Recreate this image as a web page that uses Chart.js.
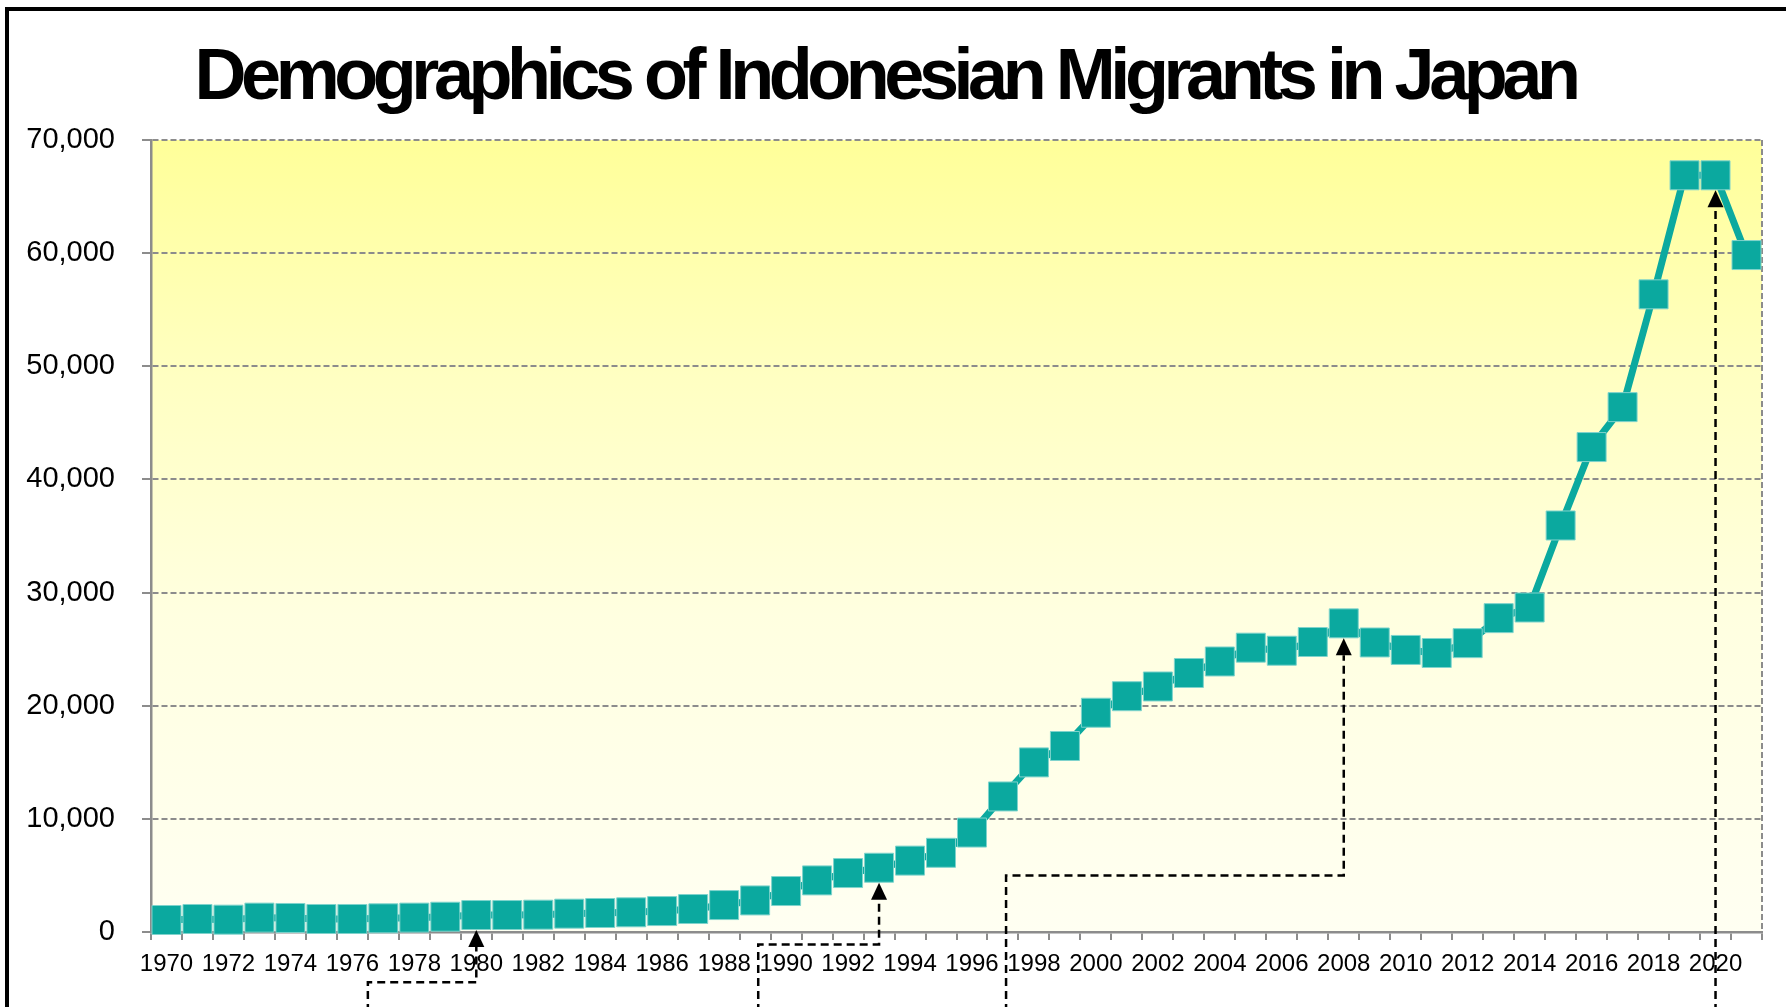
<!DOCTYPE html>
<html>
<head>
<meta charset="utf-8">
<title>Demographics of Indonesian Migrants in Japan</title>
<script src="https://cdn.jsdelivr.net/npm/chart.js@4.4.1/dist/chart.umd.min.js"></script>
<style>
  html, body { margin: 0; padding: 0; background: #ffffff; overflow: hidden; width: 1786px; height: 1007px; }
  #frame { position: absolute; left: 5px; top: 7px; width: 1900px; height: 1100px; border: 4px solid #000; box-sizing: border-box; }
  #title { position: absolute; left: 0; top: 38px; width: 1770px; margin: 0; text-align: center;
           font-family: 'Liberation Sans', Arial, sans-serif; font-weight: bold; font-size: 72px; line-height: 72px;
           color: #000; white-space: nowrap; }
  #c { position: absolute; left: 0; top: 0; }
</style>
</head>
<body>
<div id="frame"></div>
<h1 id="title"><span id="titleText">Demographics of Indonesian Migrants in Japan</span></h1>
<canvas id="c" width="1786" height="1007"></canvas>
<script>
// ---- data ----
const years = ['1970','1971','1972','1973','1974','1975','1976','1977','1978','1979',
               '1980','1981','1982','1983','1984','1985','1986','1987','1988','1989',
               '1990','1991','1992','1993','1994','1995','1996','1997','1998','1999',
               '2000','2001','2002','2003','2004','2005','2006','2007','2008','2009',
               '2010','2011','2012','2013','2014','2015','2016','2017','2018','2019',
               '2020','2021'];
const migrants = [1060, 1150, 1090, 1270, 1240, 1150, 1150, 1210, 1270, 1350,
                  1500, 1500, 1530, 1620, 1680, 1740, 1850, 2030, 2380, 2790,
                  3620, 4560, 5210, 5680, 6310, 7000, 8790, 11980, 14990, 16440,
                  19380, 20840, 21700, 22890, 23910, 25130, 24860, 25630, 27280, 25590,
                  24930, 24660, 25530, 27740, 28680, 35930, 42860, 46390, 56360, 66880,
                  66880, 59830];
const xTickLabels = ['1970','1972','1974','1976','1978','1980','1982','1984','1986','1988',
                     '1990','1992','1994','1996','1998','2000','2002','2004','2006','2008',
                     '2010','2012','2014','2016','2018','2020'];
const yTickValues = [0, 10000, 20000, 30000, 40000, 50000, 60000, 70000];

// dashed call-out leaders (category position where leader rises, elbow level in data units, target year)
const calloutStart = [6.5, 19.1, 27.1, 50];
const calloutElbow = [-4450, -1100, 5000, null];
const calloutTarget = ['1980', '1993', '2008', '2020'];

// ---- title letter spacing to match condensed look ----
(function () {
  const span = document.getElementById('titleText');
  const w = span.getBoundingClientRect().width;
  const target = 1381;
  const n = span.textContent.length;
  span.parentElement.style.letterSpacing = ((target - w) / n).toFixed(2) + 'px';
})();

const teal = '#0BA99F';

const plotBackground = {
  id: 'plotBackground',
  beforeDraw(chart) {
    const { ctx, chartArea: a } = chart;
    const g = ctx.createLinearGradient(0, a.top, 0, a.bottom);
    g.addColorStop(0, '#FFFF99');
    g.addColorStop(0.3, '#FFFFC2');
    g.addColorStop(0.6, '#FFFFE0');
    g.addColorStop(1, '#FFFFF2');
    ctx.save();
    ctx.fillStyle = g;
    ctx.fillRect(a.left, a.top, a.right - a.left, a.bottom - a.top);
    ctx.restore();
  },
  beforeDatasetsDraw(chart) {
    const { ctx, chartArea: a } = chart;
    ctx.save();
    ctx.strokeStyle = '#8c8c8c';
    ctx.lineWidth = 2;
    ctx.setLineDash([6, 3]);
    ctx.beginPath();
    ctx.moveTo(a.right, a.top);
    ctx.lineTo(a.right, a.bottom);
    ctx.stroke();
    ctx.restore();
  }
};

const callouts = {
  id: 'callouts',
  afterDraw(chart) {
    const { ctx } = chart;
    const xs = chart.scales.x, ys = chart.scales.y;
    const bottom = chart.height + 5;
    const headLen = 17, headHalf = 8;
    ctx.save();
    ctx.strokeStyle = '#000';
    ctx.fillStyle = '#000';
    ctx.lineWidth = 2.5;
    for (let k = 0; k < calloutTarget.length; k++) {
      const idx = years.indexOf(calloutTarget[k]);
      const xt = xs.getPixelForValue(idx);
      const tipY = ys.getPixelForValue(migrants[idx]) + 15;
      const x0 = xs.getPixelForValue(calloutStart[k]);
      ctx.setLineDash([8, 5]);
      ctx.beginPath();
      if (calloutElbow[k] === null) {
        ctx.moveTo(xt, bottom);
      } else {
        const ye = ys.getPixelForValue(calloutElbow[k]);
        ctx.moveTo(x0, bottom);
        ctx.lineTo(x0, ye);
        ctx.lineTo(xt, ye);
      }
      ctx.lineTo(xt, tipY + headLen);
      ctx.stroke();
      ctx.setLineDash([]);
      ctx.beginPath();
      ctx.moveTo(xt, tipY);
      ctx.lineTo(xt - headHalf, tipY + headLen);
      ctx.lineTo(xt + headHalf, tipY + headLen);
      ctx.closePath();
      ctx.fill();
    }
    ctx.restore();
  }
};

new Chart(document.getElementById('c'), {
  type: 'line',
  data: {
    labels: years,
    datasets: [{
      label: 'Indonesian migrants in Japan',
      data: migrants,
      borderColor: teal,
      borderWidth: 7,
      backgroundColor: teal,
      pointStyle: 'rect',
      pointRadius: 20.5,
      pointHoverRadius: 20.5,
      pointBackgroundColor: teal,
      pointBorderColor: '#7fd3cc',
      pointBorderWidth: 1,
      tension: 0,
      clip: false
    }]
  },
  options: {
    responsive: false,
    animation: false,
    devicePixelRatio: 1,
    layout: { padding: { top: 140, right: 24, bottom: 0, left: 0 } },
    plugins: {
      legend: { display: false },
      title: { display: false },
      tooltip: { enabled: false }
    },
    scales: {
      x: {
        type: 'category',
        offset: true,
        grid: { display: true, offset: true, drawOnChartArea: false, drawTicks: true,
                tickLength: 8, color: '#8c8c8c', lineWidth: 2 },
        border: { display: true, color: '#8c8c8c', width: 2.5 },
        ticks: {
          autoSkip: false, maxRotation: 0, minRotation: 0, padding: 10, color: '#000',
          font: { family: "'Liberation Sans', Arial, sans-serif", size: 24 },
          callback: function (value, index) {
            const lab = years[index];
            return xTickLabels.includes(lab) ? lab : '';
          }
        },
        afterFit(scale) { scale.height = 75; }
      },
      y: {
        min: 0, max: 70000,
        afterBuildTicks(scale) { scale.ticks = yTickValues.map(v => ({ value: v })); },
        grid: { color: '#8c8c8c', lineWidth: 2, drawTicks: true, tickLength: 9 },
        border: { display: true, color: '#8c8c8c', width: 2.5, dash: [6, 3] },
        ticks: {
          padding: 27, color: '#000',
          font: { family: "'Liberation Sans', Arial, sans-serif", size: 29 },
          callback: v => v.toLocaleString('en-US')
        },
        afterFit(scale) { scale.width = 151; }
      }
    }
  },
  plugins: [plotBackground, callouts]
});
</script>
</body>
</html>
